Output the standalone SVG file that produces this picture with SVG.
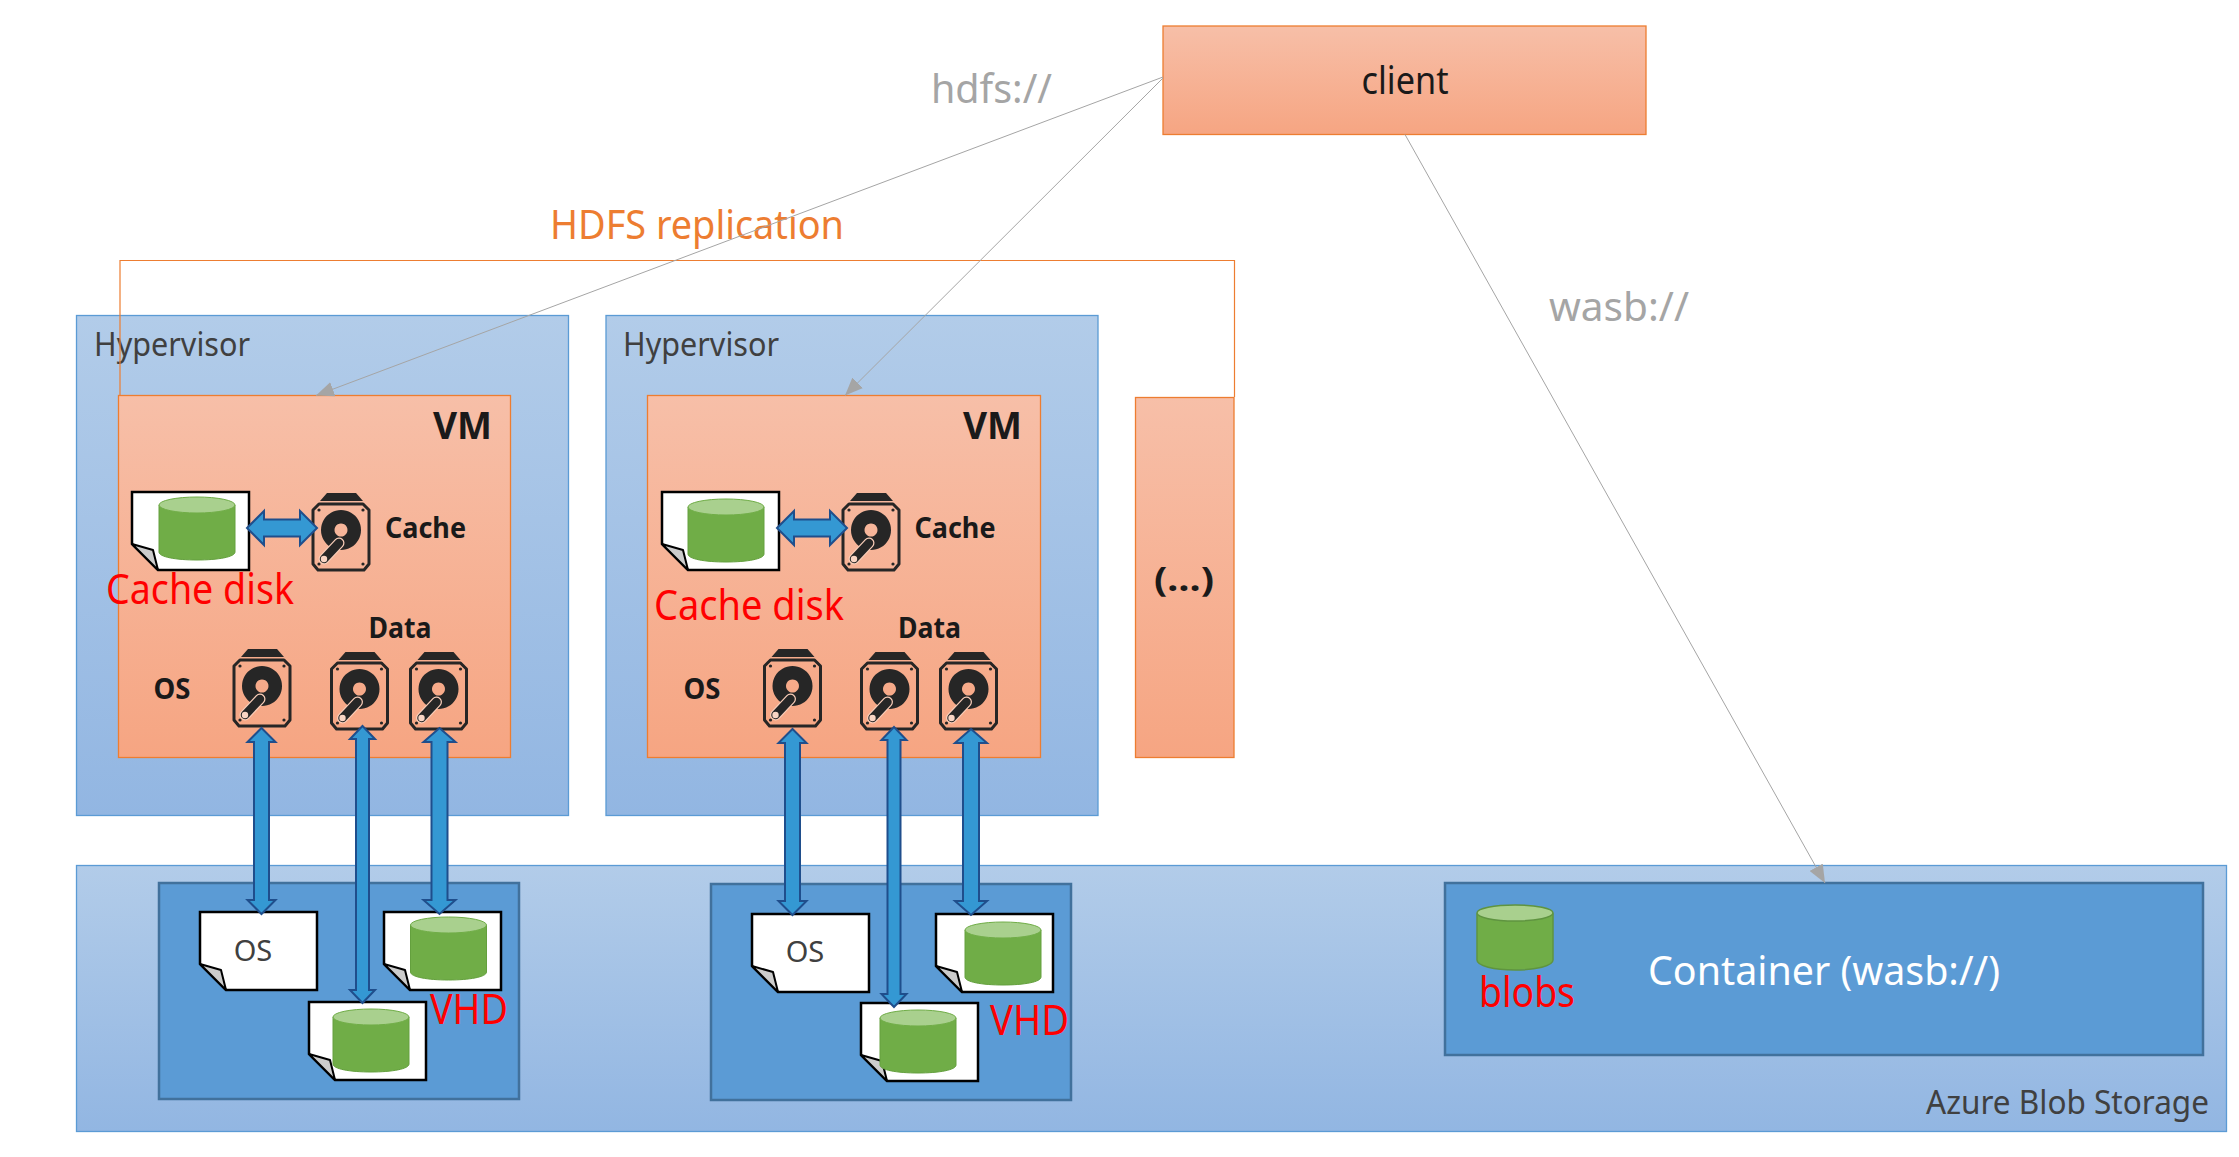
<svg xmlns="http://www.w3.org/2000/svg" xmlns:xlink="http://www.w3.org/1999/xlink" width="2239" height="1157" viewBox="0 0 2239 1157">
<style>
text{font-family:"Noto Sans","Open Sans","Liberation Sans",sans-serif}
.peach{fill:url(#gp);stroke:#ed7d31;stroke-width:1.3}
.sky{fill:url(#gb);stroke:#5b9bd5;stroke-width:1.3}
.inner{fill:#5b9bd5;stroke:#41719c;stroke-width:2.500}
.red{fill:#ff0000;font-size:41px}
.grey{fill:#a5a5a5;font-size:40px}
.dark{fill:#404040;font-size:33px}
.bold{fill:#1a1a1a;font-weight:700;font-size:29px}
.flow{fill:none;stroke:#a5a5a5;stroke-width:1;marker-end:url(#tip)}
.dbl{fill:#3498d3;stroke:#1f4e8c;stroke-width:2}
</style>
<defs>
<linearGradient id="gp" x1="0" y1="0" x2="0" y2="1"><stop offset="0" stop-color="#f7bfa8"/><stop offset="1" stop-color="#f6a582"/></linearGradient>
<linearGradient id="gb" x1="0" y1="0" x2="0" y2="1"><stop offset="0" stop-color="#b2cce9"/><stop offset="1" stop-color="#92b6e2"/></linearGradient>
<marker id="tip" viewBox="0 0 18 15" refX="18" refY="7.500" markerUnits="userSpaceOnUse" markerWidth="18" markerHeight="15" orient="auto"><path d="M0 0L18 7.500L0 15Z" fill="#a5a5a5"/></marker>
<g id="cyl">
<path d="M0 8V55C0 60 17 63 38 63S76 60 76 55V8Z" fill="#70ad47" stroke="#64a03e" stroke-width="1"/>
<ellipse cx="38" cy="8" rx="38" ry="8" fill="#a9d08e" stroke="#70ad47" stroke-width="1"/>
</g>
<g id="doc">
<path d="M0 0H117V78H26L0 52Z" fill="#fff" stroke="#000" stroke-width="2.500"/>
<path d="M0 52L21 58L26 78Z" fill="#ccc" stroke="#000" stroke-width="2" stroke-linejoin="round"/>
</g>
<g id="hdd">
<path d="M15 0H44L51 8H8Z" fill="#262626"/>
<path d="M7 11H51L57 17V71L52 77H6L1 71V17Z" fill="none" stroke="#262626" stroke-width="3" stroke-linejoin="round"/>
<path fill-rule="evenodd" d="M29 17A20 20 0 1 0 29.01 17ZM29 30.500A6.500 6.500 0 1 1 28.99 30.500Z" fill="#262626"/>
<path d="M27 50L12 66" stroke="#f9cdb8" stroke-width="11" stroke-linecap="round"/>
<path d="M27 50L12 66" stroke="#262626" stroke-width="8.500" stroke-linecap="round"/>
<circle cx="12" cy="66" r="3.200" fill="#f9d5c4"/>
<circle cx="7" cy="17" r="1.600" fill="#262626"/><circle cx="51" cy="17" r="1.600" fill="#262626"/><circle cx="7" cy="71" r="1.600" fill="#262626"/><circle cx="51" cy="71" r="1.600" fill="#262626"/>
</g>
</defs>

<g id="client">
<rect class="peach" x="1163" y="26" width="483" height="108.500"/>
<text x="1405" y="94" font-size="38" text-anchor="middle" fill="#1a1a1a" textLength="87" lengthAdjust="spacingAndGlyphs">client</text>
</g>

<g id="hypervisor1">
<rect class="sky" x="76.500" y="315.500" width="492" height="500"/>
<text class="dark" x="94" y="356" textLength="156" lengthAdjust="spacingAndGlyphs">Hypervisor</text>
</g>
<g id="hypervisor2">
<rect class="sky" x="606" y="315.500" width="492" height="500"/>
<text class="dark" x="623" y="356" textLength="156" lengthAdjust="spacingAndGlyphs">Hypervisor</text>
</g>

<g id="vm1">
<rect class="peach" x="118.500" y="395.500" width="392" height="362"/>
<text class="bold" x="433" y="439" style="font-size:38px" textLength="59" lengthAdjust="spacingAndGlyphs">VM</text>
<use href="#doc" x="132" y="492"/>
<use href="#cyl" x="159" y="497"/>
<use href="#hdd" x="312" y="493"/>
<text class="bold" x="385" y="538" textLength="81" lengthAdjust="spacingAndGlyphs">Cache</text>
<text class="red" x="106" y="604" textLength="188" lengthAdjust="spacingAndGlyphs">Cache disk</text>
<text class="bold" x="368.500" y="638" textLength="63" lengthAdjust="spacingAndGlyphs">Data</text>
<text class="bold" x="153.500" y="699" textLength="37" lengthAdjust="spacingAndGlyphs">OS</text>
<use href="#hdd" x="233" y="649"/>
<use href="#hdd" x="330.500" y="652"/>
<use href="#hdd" x="409.500" y="652"/>
</g>

<g id="vm2">
<rect class="peach" x="647.500" y="395.500" width="393" height="362"/>
<text class="bold" x="963" y="439" style="font-size:38px" textLength="59" lengthAdjust="spacingAndGlyphs">VM</text>
<use href="#doc" x="662" y="492"/>
<use href="#cyl" x="688" y="499"/>
<use href="#hdd" x="842" y="493"/>
<text class="bold" x="914.500" y="538" textLength="81" lengthAdjust="spacingAndGlyphs">Cache</text>
<text class="red" x="654" y="620" textLength="190" lengthAdjust="spacingAndGlyphs">Cache disk</text>
<text class="bold" x="898" y="638" textLength="63" lengthAdjust="spacingAndGlyphs">Data</text>
<text class="bold" x="683.500" y="699" textLength="37" lengthAdjust="spacingAndGlyphs">OS</text>
<use href="#hdd" x="763.500" y="649"/>
<use href="#hdd" x="860.500" y="652"/>
<use href="#hdd" x="939.500" y="652"/>
</g>

<g id="vm-more">
<rect class="peach" x="1135.500" y="397.500" width="98.500" height="360"/>
<text class="bold" x="1154" y="591" style="font-size:34px" textLength="60" lengthAdjust="spacingAndGlyphs">(…)</text>
</g>

<g id="storage">
<rect class="sky" x="76.500" y="865.500" width="2150" height="266"/>
<text class="dark" x="1926" y="1114" textLength="283" lengthAdjust="spacingAndGlyphs">Azure Blob Storage</text>
</g>

<g id="vhd1">
<rect class="inner" x="159" y="883" width="360" height="216"/>
<use href="#doc" x="200" y="912"/>
<text x="253" y="961" font-size="29" fill="#404040" text-anchor="middle">OS</text>
<use href="#doc" x="384" y="912"/>
<use href="#cyl" x="410.500" y="917"/>
<use href="#doc" x="309" y="1002"/>
<use href="#cyl" x="333" y="1009"/>
<text class="red" x="430" y="1024" textLength="78" lengthAdjust="spacingAndGlyphs">VHD</text>
</g>

<g id="vhd2">
<rect class="inner" x="711" y="884" width="360" height="216"/>
<use href="#doc" x="752" y="914"/>
<text x="805" y="962" font-size="29" fill="#404040" text-anchor="middle">OS</text>
<use href="#doc" x="936" y="914"/>
<use href="#cyl" x="965" y="922"/>
<use href="#doc" x="861" y="1003"/>
<use href="#cyl" x="880" y="1010"/>
<text class="red" x="990" y="1035" textLength="79" lengthAdjust="spacingAndGlyphs">VHD</text>
</g>

<g id="container">
<rect class="inner" x="1445" y="883" width="758" height="172"/>
<path d="M1477 914V960C1477 966 1494 970 1515 970S1553 966 1553 960V914Z" fill="#70ad47" stroke="#5f9440" stroke-width="1.500"/>
<ellipse cx="1515" cy="913" rx="38" ry="8" fill="#a9d08e" stroke="#5f9440" stroke-width="1.500"/>
<text class="red" x="1479" y="1007" textLength="96" lengthAdjust="spacingAndGlyphs">blobs</text>
<text x="1648" y="985" font-size="40" fill="#fff" textLength="352" lengthAdjust="spacingAndGlyphs">Container (wasb://)</text>
</g>

<g id="labels">
<text class="grey" x="931" y="103" textLength="121" lengthAdjust="spacingAndGlyphs">hdfs://</text>
<text x="550" y="239" font-size="40" fill="#ed7d31" textLength="294" lengthAdjust="spacingAndGlyphs">HDFS replication</text>
<text class="grey" x="1549" y="321" textLength="140" lengthAdjust="spacingAndGlyphs">wasb://</text>
</g>

<g id="connectors">
<path d="M120 395.500V260.500H1234.500V397" fill="none" stroke="#ed7d31" stroke-width="1.200"/>
<path class="flow" d="M1163 77L316 395.500"/>
<path class="flow" d="M1163 78L845 395.500"/>
<path class="flow" d="M1405 134.500L1825 883"/>
<path class="dbl" d="M247 528L264 511V519.500H300V511L317 528L300 545V536.500H264V545Z"/>
<path class="dbl" d="M777 528L794 511V519.500H830V511L847 528L830 545V536.500H794V545Z"/>
<path class="dbl" d="M261.500 728L275.500 742H269V900H275.500L261.500 914L247.500 900H254V742H247.500Z"/>
<path class="dbl" d="M362.500 726L375 739H369V990H375L362.500 1003L350 990H356V739H350Z"/>
<path class="dbl" d="M439.500 728L455.500 742H447.500V900H455.500L439.500 914L423.500 900H431.500V742H423.500Z"/>
<path class="dbl" d="M792.500 729L806.500 743H800V901H806.500L792.500 915L778.500 901H785V743H778.500Z"/>
<path class="dbl" d="M894 727L906.500 740H900.500V994H906.500L894 1007L881.500 994H887.500V740H881.500Z"/>
<path class="dbl" d="M971 729L987 743H979V901H987L971 915L955 901H963V743H955Z"/>
</g>
</svg>
